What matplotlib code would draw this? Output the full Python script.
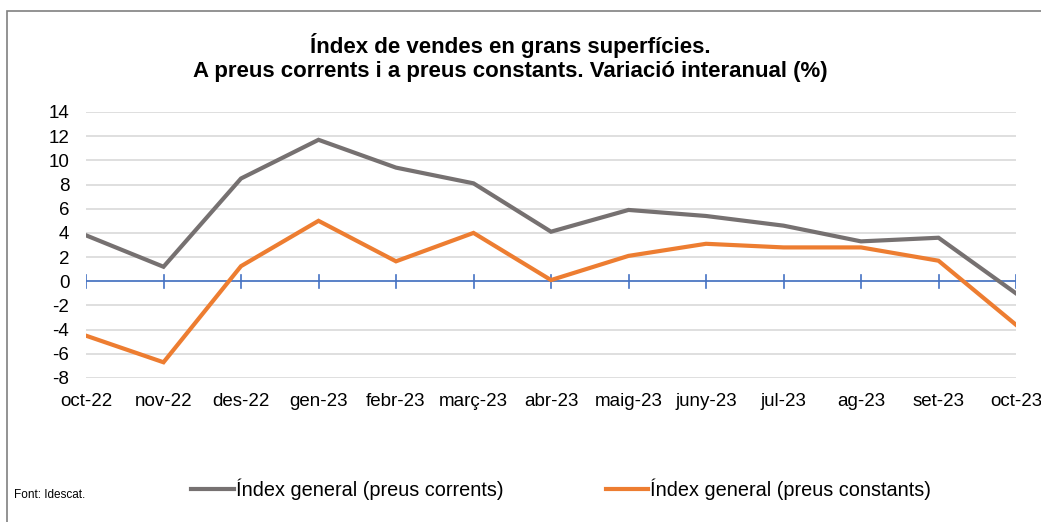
import matplotlib.pyplot as plt
from matplotlib.lines import Line2D
from matplotlib.patches import Rectangle
from matplotlib import font_manager

months = ['oct-22', 'nov-22', 'des-22', 'gen-23', 'febr-23', 'març-23', 'abr-23',
          'maig-23', 'juny-23', 'jul-23', 'ag-23', 'set-23', 'oct-23']
corrents = [3.8, 1.2, 8.5, 11.7, 9.4, 8.1, 4.1, 5.9, 5.4, 4.6, 3.3, 3.6, -1.0]
constants = [-4.5, -6.7, 1.25, 5.0, 1.65, 4.0, 0.1, 2.1, 3.1, 2.8, 2.8, 1.7, -3.6]
yticks = list(range(-8, 15, 2))

names = {f.name for f in font_manager.fontManager.ttflist}
narrow = 'Liberation Sans Narrow' if 'Liberation Sans Narrow' in names else 'Liberation Sans'
plt.rcParams['font.family'] = ['Liberation Sans', 'DejaVu Sans']

W, H = 1041, 522
fig = plt.figure(figsize=(W / 100, H / 100), dpi=100)

# chart frame (only top and left edges visible)
fig.patches.append(Rectangle((7 / W, -0.05), 1.1, 1 - 11 / H + 0.05, transform=fig.transFigure,
                             fill=False, edgecolor='#808080', linewidth=1.2))

ax = fig.add_axes([86 / W, 1 - 378 / H, (1016 - 86) / W, (378 - 112) / H])
x = list(range(len(months)))
ax.plot(x, corrents, color='#767171', linewidth=3, solid_joinstyle='miter')
ax.plot(x, constants, color='#ED7D31', linewidth=3, solid_joinstyle='miter')

ax.set_xlim(0, len(months) - 1)
ax.set_ylim(-8, 14)
ax.set_yticks(yticks)
ax.set_yticklabels([str(v) for v in yticks])
ax.grid(axis='y', color='#D9D9D9', linewidth=1.2)
ax.set_axisbelow(True)
for s in ax.spines.values():
    s.set_visible(False)
ax.tick_params(axis='y', length=0, labelsize=13.5, pad=12)
ax.tick_params(axis='x', length=0, labelsize=13.5, pad=11)
ax.set_xticks(x)
ax.set_xticklabels(months)

# x axis at zero with ticks crossing
ax.axhline(0, color='#4472C4', linewidth=1.2, zorder=1.5)
for xi in x:
    ax.plot([xi, xi], [-0.55, 0.55], color='#4472C4', linewidth=1.2, zorder=1.5)

fig.text(510 / W, 1 - 45 / H, 'Índex de vendes en grans superfícies.', ha='center', va='center',
         fontsize=16, fontweight='bold')
fig.text(510 / W, 1 - 71 / H, 'A preus corrents i a preus constants. Variació interanual (%)',
         ha='center', va='center', fontsize=16, fontweight='bold')

# legend
ly = 1 - 489 / H
fig.lines.append(Line2D([191 / W, 234 / W], [ly, ly], transform=fig.transFigure,
                        color='#767171', linewidth=3))
fig.text(236 / W, ly, 'Índex general (preus corrents)', ha='left', va='center',
         fontsize=14.3, family=narrow)
fig.lines.append(Line2D([606 / W, 648 / W], [ly, ly], transform=fig.transFigure,
                        color='#ED7D31', linewidth=3))
fig.text(650 / W, ly, 'Índex general (preus constants)', ha='left', va='center',
         fontsize=14.3, family=narrow)
fig.text(14 / W, 1 - 495 / H, 'Font: Idescat.', ha='left', va='center', fontsize=8.5, family=narrow)

fig.savefig('out.png', dpi=100)
